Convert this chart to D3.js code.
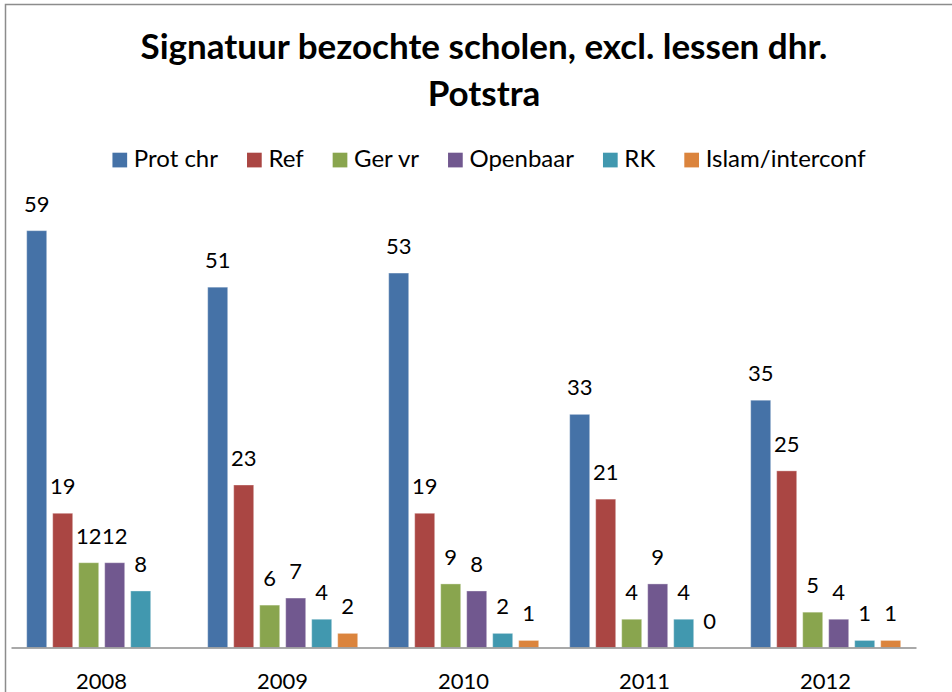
<!DOCTYPE html>
<html>
<head>
<meta charset="utf-8">
<script src="https://cdn.jsdelivr.net/npm/d3@7"></script>
<style>
  body { margin: 0; background: #fff; }
  text { font-family: Lato, "Open Sans", sans-serif; fill: #000; }
</style>
</head>
<body>
<div id="chart"></div>
<script>
// data
var years = ["2008", "2009", "2010", "2011", "2012"];
var seriesNames = ["Prot chr", "Ref", "Ger vr", "Openbaar", "RK", "Islam/interconf"];
var protChr  = [59, 51, 53, 33, 35];
var ref      = [19, 23, 19, 21, 25];
var gerVr    = [12, 6, 9, 4, 5];
var openbaar = [12, 7, 8, 9, 4];
var rk       = [8, 4, 2, 4, 1];
var islam    = [null, 2, 1, 0, 1];
var colors = ["#4572A7", "#AA4643", "#89A54E", "#71588F", "#4198AF", "#DB843D"];

(function() {
    var width = 952, height = 692;
    var allSeries = [protChr, ref, gerVr, openbaar, rk, islam];

    var svg = d3.select("#chart").append("svg")
        .attr("width", width)
        .attr("height", height);

    //chart frame
    svg.append("path")
        .attr("d", "M5.5," + height + "V4.5H" + width)
        .attr("fill", "none")
        .attr("stroke", "#8c8c8c")
        .attr("stroke-width", 1.5);

    //scales
    var x0 = d3.scaleBand().domain(years).range([11, 916]);
    var x1 = d3.scaleBand().domain(seriesNames).range([15.7, 165.7])
        .paddingInner(6 / 26).paddingOuter(0);
    var y = d3.scaleLinear().domain([0, 60]).range([647.5, 223.6]);

    //title
    var title = svg.append("text")
        .attr("text-anchor", "middle")
        .style("font-weight", "bold")
        .style("font-size", "35px");
    title.append("tspan").attr("x", 484).attr("y", 59)
        .text("Signatuur bezochte scholen, excl. lessen dhr.");
    title.append("tspan").attr("x", 484).attr("y", 106)
        .text("Potstra");

    //legend
    var legend = svg.append("g");
    var items = legend.selectAll("g").data(seriesNames).enter().append("g");
    items.append("rect")
        .attr("y", 152.7)
        .attr("width", 14.7)
        .attr("height", 14.7)
        .attr("fill", function(d, i) { return colors[i]; });
    items.append("text")
        .attr("x", 21.4)
        .attr("y", 166.7)
        .style("font-size", "24px")
        .text(function(d) { return d; });
    var pos = 0, offsets = [];
    items.each(function() {
        offsets.push(pos);
        pos += 21.4 + this.querySelector("text").getComputedTextLength() + 29;
    });
    pos -= 29;
    var start = 489 - pos / 2;
    items.attr("transform", function(d, i) {
        return "translate(" + (start + offsets[i]) + ",0)";
    });

    //bars
    var group = svg.selectAll(".year")
        .data(years)
        .enter().append("g")
        .attr("class", "year")
        .attr("transform", function(d) { return "translate(" + x0(d) + ",0)"; });

    var cells = group.selectAll(".cell")
        .data(function(d, yi) {
            return seriesNames.map(function(s, si) {
                return { series: s, idx: si, value: allSeries[si][yi] };
            }).filter(function(c) { return c.value !== null; });
        })
        .enter().append("g")
        .attr("class", "cell");

    cells.append("rect")
        .attr("x", function(d) { return x1(d.series); })
        .attr("width", x1.bandwidth())
        .attr("y", function(d) { return y(d.value); })
        .attr("height", function(d) { return y(0) - y(d.value); })
        .attr("fill", function(d) { return colors[d.idx]; })
        .attr("stroke", "rgba(255,255,255,0.35)")
        .attr("stroke-width", 1);

    cells.append("text")
        .attr("x", function(d) { return x1(d.series) + x1.bandwidth() / 2; })
        .attr("y", function(d) { return y(d.value) - 19; })
        .attr("text-anchor", "middle")
        .style("font-size", "22px")
        .text(function(d) { return d.value; });

    //x-axis
    var xAxis = svg.append("g")
        .attr("transform", "translate(0,647.5)")
        .call(d3.axisBottom(x0).tickSize(0).tickPadding(0));
    xAxis.select(".domain").attr("stroke", "#8c8c8c").attr("stroke-width", 1.5);
    xAxis.selectAll("text")
        .attr("dy", 0)
        .attr("y", 41)
        .style("font-size", "22px")
        .style("font-family", "Lato, sans-serif");
})();
</script>
</body>
</html>
